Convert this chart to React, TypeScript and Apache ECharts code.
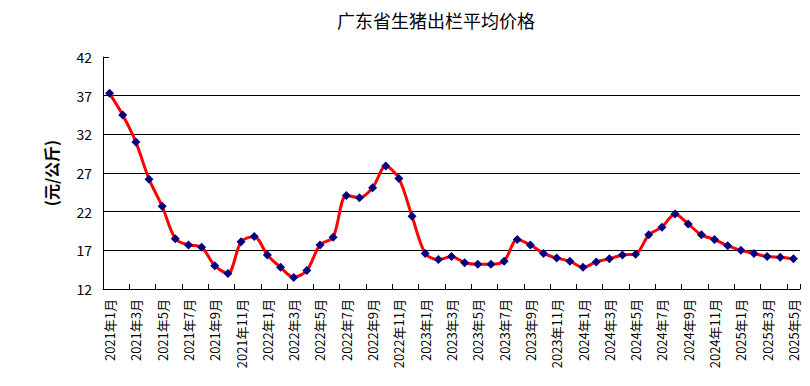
import React, { useEffect, useRef } from "react";
import * as echarts from "echarts";

const years = [2021, 2022, 2023, 2024, 2025];
const monthsPerYear = [12, 12, 12, 12, 5];
const categories: string[] = [];
years.forEach((y, i) => {
  for (let m = 1; m <= monthsPerYear[i]; m++) categories.push(`${y}年${m}月`);
});

const prices = [
  37.3, 34.5, 31.0, 26.2, 22.7, 18.5, 17.7, 17.4, 15.0, 14.0, 18.1, 18.8,
  16.4, 14.8, 13.5, 14.4, 17.7, 18.7, 24.1, 23.8, 25.1, 27.9, 26.3, 21.4,
  16.6, 15.8, 16.2, 15.4, 15.2, 15.2, 15.6, 18.4, 17.7, 16.6, 16.0, 15.6,
  14.8, 15.5, 15.9, 16.4, 16.5, 19.0, 20.0, 21.7, 20.4, 19.0, 18.4, 17.6,
  17.0, 16.6, 16.2, 16.1, 15.9,
];

const title = "广东省生猪出栏平均价格";
const yName = "(元/公斤)";
const yTicks = { min: 12, max: 42, interval: 5 };

const FONT = "'Noto Sans CJK SC', 'Liberation Sans', sans-serif";

export default function App() {
  const ref = useRef<HTMLDivElement>(null);
  useEffect(() => {
    if (!ref.current) return;
    const chart = echarts.init(ref.current, null, { renderer: "svg" });
    chart.setOption({
      animation: false,
      backgroundColor: "#ffffff",
      title: {
        text: title,
        left: 332,
        top: 6,
        textStyle: { fontSize: 18, fontWeight: "normal", color: "#000", fontFamily: FONT },
      },
      grid: { left: 103, right: 10, top: 57, bottom: 97, containLabel: false },
      xAxis: {
        type: "category",
        data: categories,
        boundaryGap: true,
        axisLine: { lineStyle: { color: "#000", width: 1 } },
        axisTick: { show: true, inside: true, length: 5, interval: 1, lineStyle: { color: "#000" } },
        axisLabel: {
          interval: 1,
          rotate: 90,
          margin: 10,
          color: "#000",
          fontSize: 13,
          fontFamily: FONT,
        },
        splitLine: { show: false },
      },
      yAxis: {
        type: "value",
        min: yTicks.min,
        max: yTicks.max,
        interval: yTicks.interval,
        name: yName,
        nameLocation: "middle",
        nameRotate: 90,
        nameGap: 44,
        nameTextStyle: { color: "#000", fontSize: 16, fontWeight: "bold", fontFamily: FONT },
        axisLine: { show: true, lineStyle: { color: "#000", width: 1 } },
        axisTick: { show: true, inside: true, length: 6, lineStyle: { color: "#000" } },
        axisLabel: { color: "#000", fontSize: 14, margin: 11, fontFamily: FONT },
        splitLine: {
          show: true,
          showMinLine: false,
          showMaxLine: false,
          lineStyle: { color: "#000", width: 1 },
        },
      },
      series: [
        {
          type: "line",
          data: prices,
          smooth: 0.3,
          showAllSymbol: true,
          symbol: "diamond",
          symbolSize: 9,
          lineStyle: { color: "#ff0000", width: 3 },
          itemStyle: { color: "#000080" },
          z: 3,
        },
      ],
    });
    return () => chart.dispose();
  }, []);
  return (
    <div
      ref={ref}
      style={{ position: "fixed", left: 0, top: 0, width: 810, height: 386, background: "#fff" }}
    />
  );
}
